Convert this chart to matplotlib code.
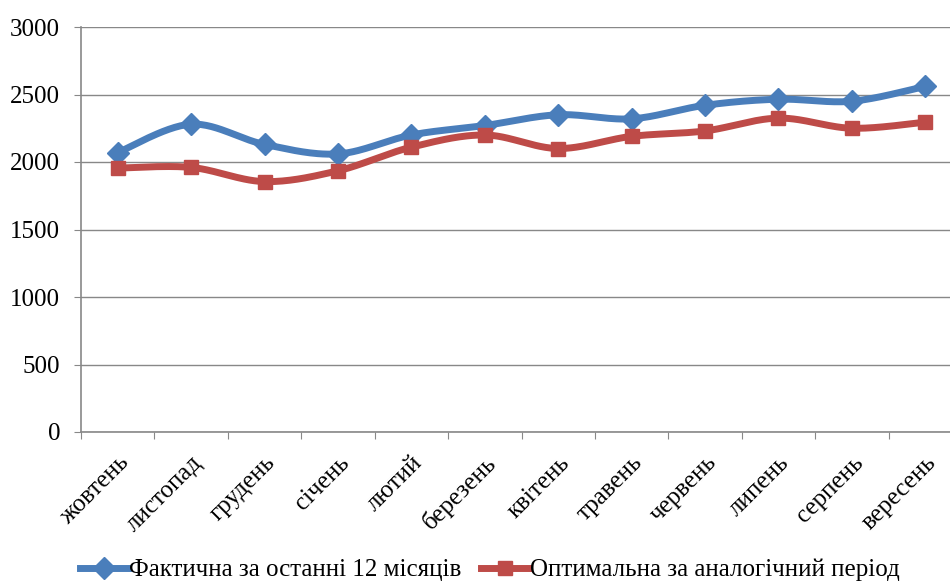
import matplotlib.pyplot as plt
import numpy as np

# Data
months = ['жовтень', 'листопад', 'грудень', 'січень', 'лютий', 'березень',
          'квітень', 'травень', 'червень', 'липень', 'серпень', 'вересень']
actual = [2070, 2280, 2130, 2060, 2200, 2270, 2350, 2320, 2420, 2465, 2450, 2560]
optimal = [1955, 1960, 1855, 1935, 2110, 2200, 2100, 2190, 2230, 2325, 2250, 2295]
label_actual = 'Фактична за останні 12 місяців'
label_optimal = 'Оптимальна за аналогічний період'

plt.rcParams['font.family'] = ['Liberation Serif', 'DejaVu Serif']


def smooth(y, n=30):
    # Catmull-Rom style smoothing like Excel's "smoothed line"
    y = np.asarray(y, dtype=float)
    x = np.arange(len(y), dtype=float)
    px = np.concatenate([[x[0]], x, [x[-1]]])
    py = np.concatenate([[y[0]], y, [y[-1]]])
    xs, ys = [], []
    for i in range(1, len(px) - 2):
        t = np.linspace(0, 1, n)
        p0, p1, p2, p3 = [np.array([px[j], py[j]]) for j in range(i - 1, i + 3)]
        c1 = p1 + (p2 - p0) / 6
        c2 = p2 - (p3 - p1) / 6
        pts = ((1 - t) ** 3)[:, None] * p1 + (3 * (1 - t) ** 2 * t)[:, None] * c1 \
            + (3 * (1 - t) * t ** 2)[:, None] * c2 + (t ** 3)[:, None] * p2
        xs.extend(pts[:, 0])
        ys.extend(pts[:, 1])
    return np.array(xs), np.array(ys)


fig = plt.figure(figsize=(9.5, 5.83), dpi=100)
ax = fig.add_axes([81 / 950, 1 - 432 / 583, 881 / 950, 405 / 583])

blue = '#4A7EBB'
red = '#BE4B48'
x = np.arange(len(months))

sx, sy = smooth(actual)
ax.plot(sx, sy, color=blue, lw=5, solid_capstyle='round', zorder=3)
ax.plot(x, actual, ls='none', marker='D', ms=11, color=blue, zorder=4)
sx, sy = smooth(optimal)
ax.plot(sx, sy, color=red, lw=5, solid_capstyle='round', zorder=3)
ax.plot(x, optimal, ls='none', marker='s', ms=10, color=red, zorder=4)

ax.set_xlim(-0.5, len(months) - 0.5)
ax.set_ylim(0, 3000)
ax.set_yticks(np.arange(0, 3001, 500))
ax.set_xticks(np.arange(-0.5, len(months), 1))
ax.set_xticklabels([])
ax.set_xticks(x, minor=True)
ax.set_xticklabels(months, minor=True, rotation=45, ha='right', va='top',
                   rotation_mode='anchor', fontsize=18)
ax.tick_params(axis='x', which='minor', length=0, pad=14)
ax.tick_params(axis='x', which='major', length=5, color='#888888')
ax.tick_params(axis='y', length=5, color='#888888', labelsize=18, pad=10)

ax.grid(axis='y', color='#888888', lw=1)
ax.set_axisbelow(True)
for s in ['top', 'right']:
    ax.spines[s].set_visible(False)
ax.spines['left'].set_color('#888888')
ax.spines['bottom'].set_color('#888888')
ax.spines['left'].set_linewidth(1.2)
ax.spines['bottom'].set_linewidth(1.2)

h1 = plt.Line2D([], [], color=blue, lw=5, marker='D', ms=11)
h2 = plt.Line2D([], [], color=red, lw=5, marker='s', ms=10)
fig.legend([h1, h2], [label_actual, label_optimal], loc='center',
           bbox_to_anchor=(0.5 + 15 / 950, 1 - 570 / 583), ncol=2, frameon=False,
           fontsize=18, handlelength=1.9, handletextpad=0.05, columnspacing=0.8,
           borderaxespad=0, borderpad=0)

fig.savefig('out.png', dpi=100)
